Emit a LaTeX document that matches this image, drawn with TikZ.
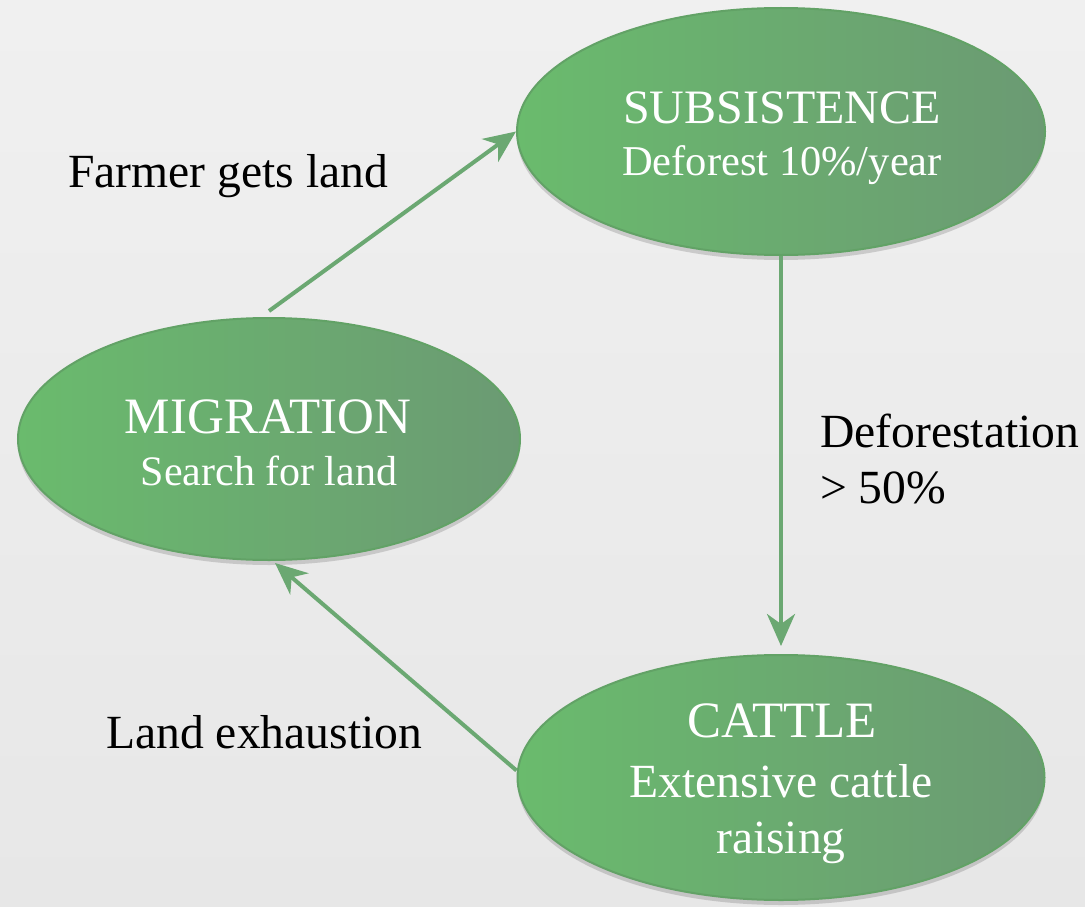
\documentclass[tikz,border=0pt]{standalone}
\usepackage{fontspec}
\setmainfont{Liberation Serif}
\usetikzlibrary{shapes.geometric,arrows.meta,shadows}
\definecolor{bgA}{HTML}{F0F0F0}
\definecolor{bgB}{HTML}{E7E7E7}
\definecolor{gLeft}{HTML}{6ABB6D}
\definecolor{gRight}{HTML}{6B9A73}
\definecolor{gEdge}{HTML}{62A266}
\definecolor{arrowgreen}{HTML}{6BA872}
\tikzset{
  stage/.style={ellipse, draw=gEdge, line width=2pt, left color=gLeft, right color=gRight,
    inner sep=0pt,
    drop shadow={shadow xshift=0pt, shadow yshift=-5pt, opacity=0.22, fill=black!70}},
  flow/.style={draw=arrowgreen, line width=4pt,
    -{Stealth[length=32pt,width=28pt,inset=10pt]}},
  intext/.style={text=white, inner sep=0pt, anchor=base},
  lbl/.style={text=black, font=\fontsize{47.6}{57}\selectfont, inner sep=0pt, anchor=base west}
}
\begin{document}
\begin{tikzpicture}[x=1pt,y=-1pt]
\shade[top color=bgA, bottom color=bgB] (0,0) rectangle (1085,907);
\useasboundingbox (0,0) rectangle (1085,907);

\node[stage, minimum width=528pt, minimum height=247pt] (sub) at (781,131.5) {};
\node[stage, minimum width=502pt, minimum height=242pt] (mig) at (269,439) {};
\node[stage, minimum width=527pt, minimum height=245pt] (cat) at (781,777.5) {};

\node[intext, font=\fontsize{48}{52}\selectfont] (subA) at (782,123) {SUBSISTENCE};
\node[intext, font=\fontsize{42.5}{52}\selectfont] (subB) at (782,175) {Deforest 10\%/year};
\node[intext, font=\fontsize{51}{54}\selectfont] (migA) at (268,433) {MIGRATION};
\node[intext, font=\fontsize{42}{52}\selectfont] (migB) at (269,485) {Search for land};
\node[intext, font=\fontsize{51}{58}\selectfont] (catA) at (782,737) {CATTLE};
\node[intext, font=\fontsize{47.6}{58}\selectfont] (catB) at (781,797) {Extensive cattle};
\node[intext, font=\fontsize{47.6}{58}\selectfont] (catC) at (781,853) {raising};

\draw[flow] ([yshift=6pt]mig.north) -- (sub.west);
\draw[flow, shorten >=8pt] (sub.south) -- (cat.north);
\draw[flow] ([yshift=7pt]cat.west) -- ([xshift=6pt,yshift=-2pt]mig.south);

\node[lbl] (l1) at (68,187) {Farmer gets land};
\node[lbl] (l2) at (820,447) {Deforestation};
\node[lbl] (l3) at (820,503) {> 50\%};
\node[lbl] (l4) at (106,748) {Land exhaustion};
\end{tikzpicture}
\end{document}
